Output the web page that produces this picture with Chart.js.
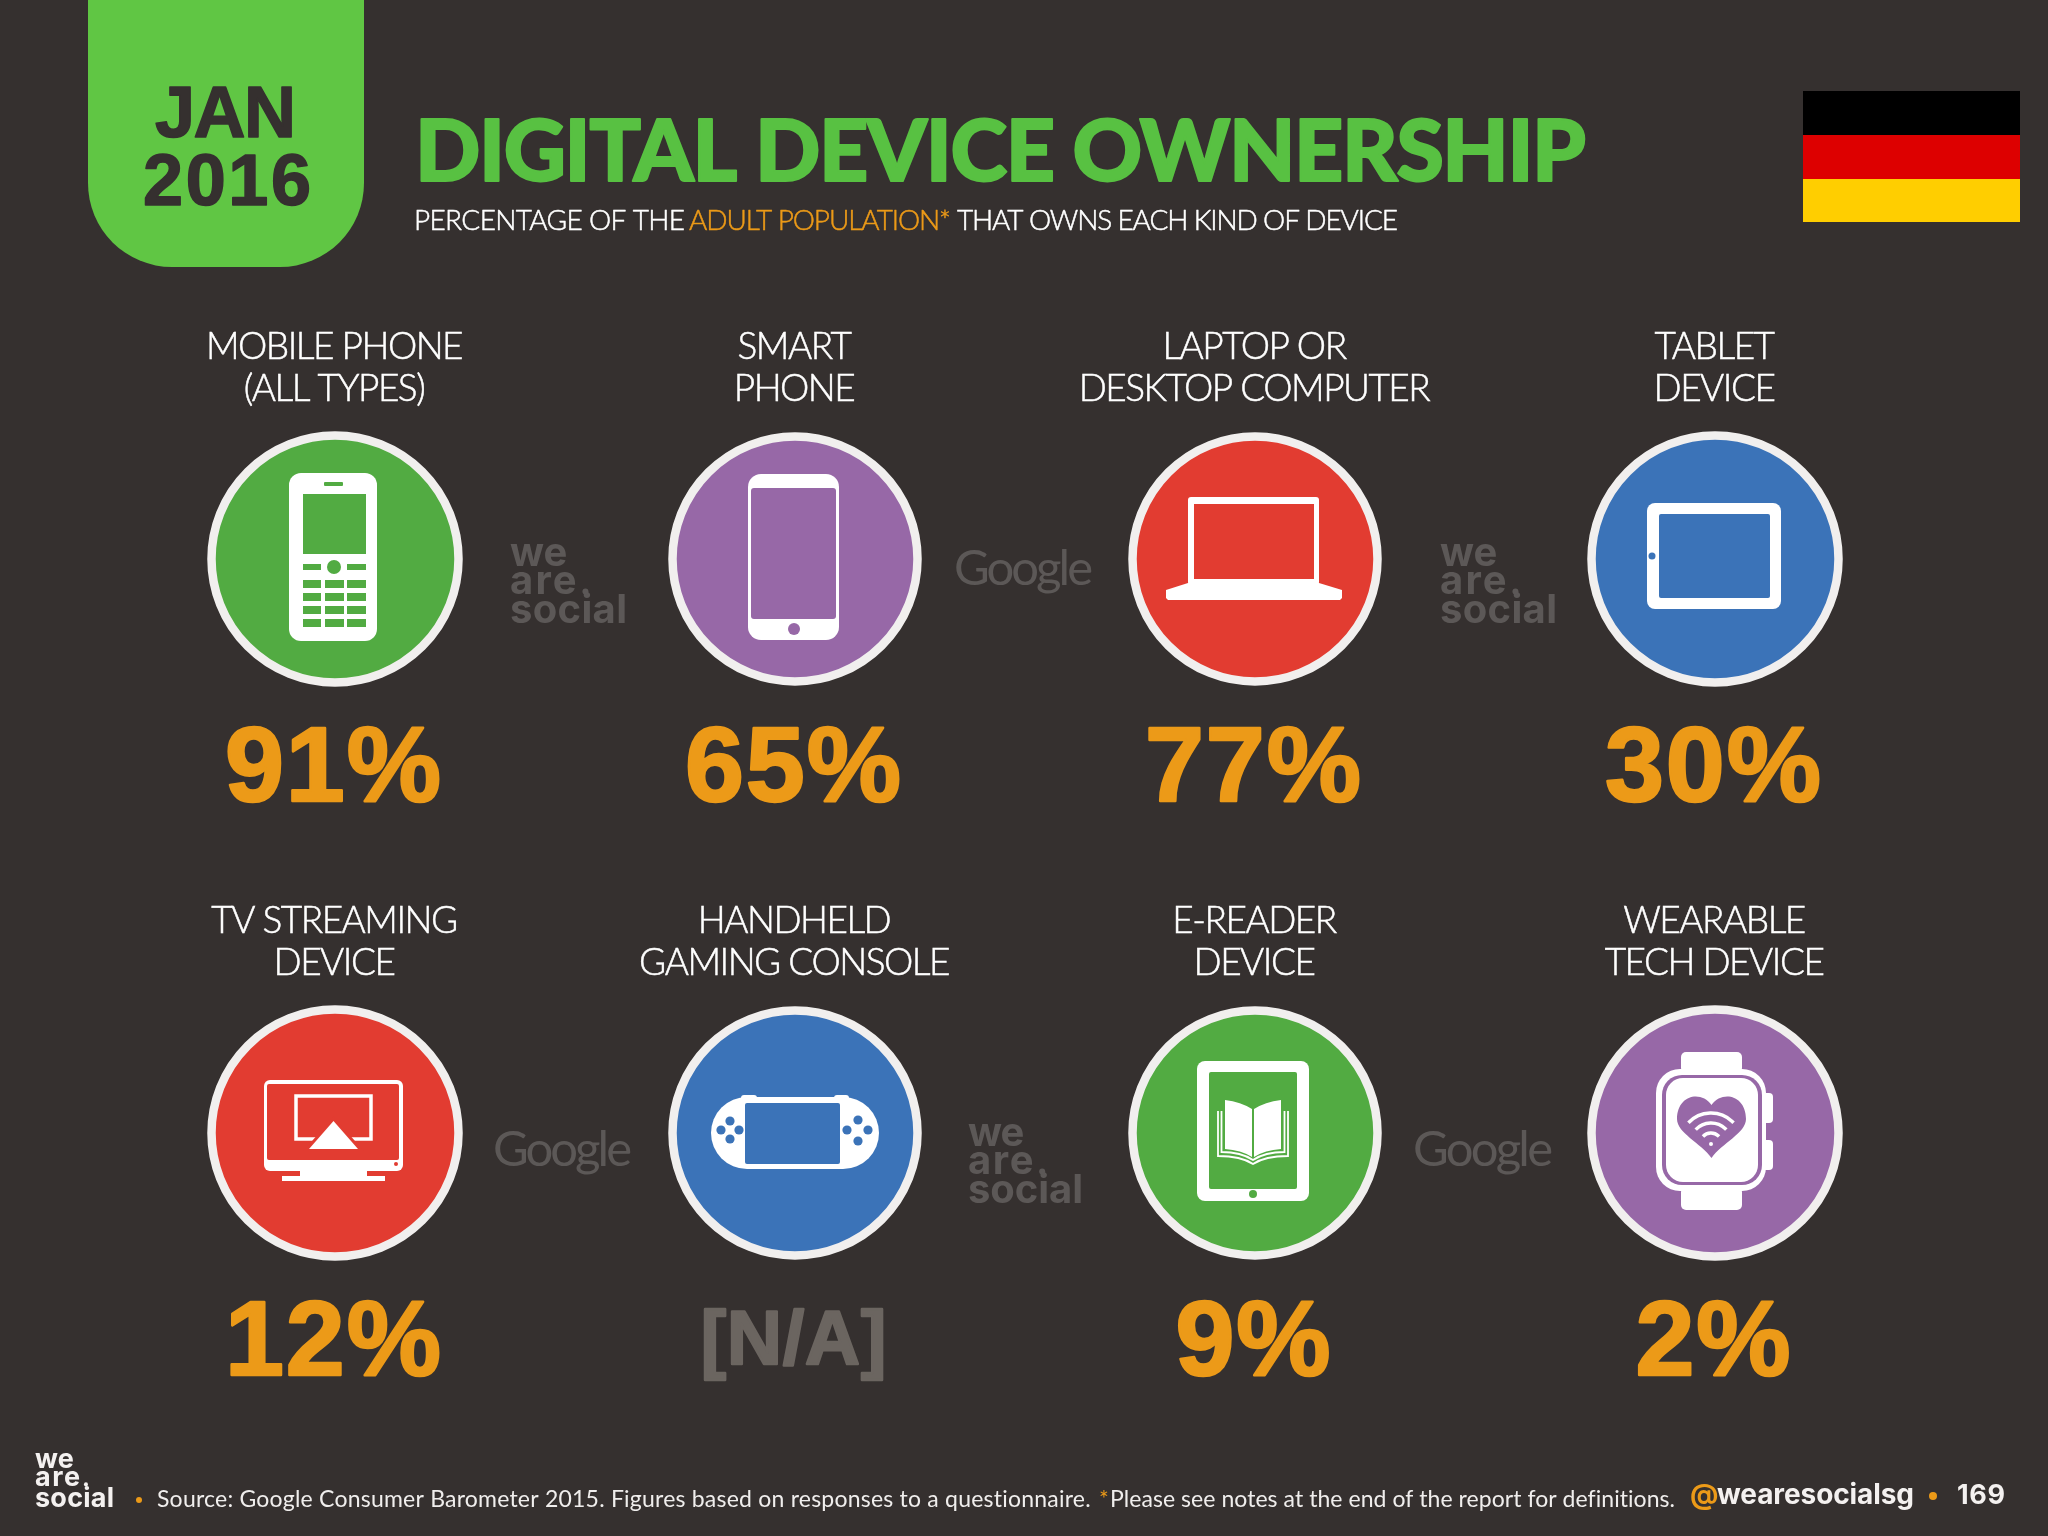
<!DOCTYPE html>
<html>
<head>
<meta charset="utf-8">
<title>Digital Device Ownership</title>
<script src="https://cdn.jsdelivr.net/npm/chart.js@4"></script>
<style>
  html, body { margin: 0; padding: 0; background: #35302f; }
  canvas { display: block; }
</style>
</head>
<body>
<canvas id="device-chart" width="2048" height="1536"></canvas>
<script>
// chart data
const categories = [
  ['MOBILE PHONE', '(ALL TYPES)'], ['SMART', 'PHONE'], ['LAPTOP OR', 'DESKTOP COMPUTER'], ['TABLET', 'DEVICE'],
  ['TV STREAMING', 'DEVICE'], ['HANDHELD', 'GAMING CONSOLE'], ['E-READER', 'DEVICE'], ['WEARABLE', 'TECH DEVICE'],
];
const ownership = [91, 65, 77, 30, 12, null, 9, 2];
const icons = ['phone', 'smart', 'laptop', 'tablet', 'tv', 'console', 'ereader', 'watch'];
const fills = ['#52ab42', '#9768a7', '#e23c31', '#3b73b8', '#e23c31', '#3b73b8', '#52ab42', '#9768a7'];

const COLUMNS = 4;
const ORANGE = '#ec9a18';
const GREY = '#5c5857';
const SANS = '"Liberation Sans", sans-serif';

// draws text, spaced so it takes exactly the given width
function fit(ctx, str, x, y, w, font, color, weight) {
  ctx.font = font;
  ctx.letterSpacing = '0px';
  ctx.textAlign = 'left';
  ctx.textBaseline = 'alphabetic';
  const natural = ctx.measureText(str).width;
  ctx.letterSpacing = ((w - natural) / (str.length - 1)).toFixed(3) + 'px';
  ctx.fillStyle = color;
  ctx.fillText(str, x, y);
  if (weight) {
    ctx.strokeStyle = color;
    ctx.lineWidth = weight;
    ctx.lineJoin = 'round';
    ctx.strokeText(str, x, y);
  }
  ctx.letterSpacing = '0px';
}

function box(ctx, x0, y0, x1, y1, r, color) {
  ctx.fillStyle = color;
  ctx.beginPath();
  ctx.roundRect(x0, y0, x1 - x0, y1 - y0, r);
  ctx.fill();
}

function dot(ctx, x, y, r, color) {
  ctx.fillStyle = color;
  ctx.beginPath();
  ctx.arc(x, y, r, 0, Math.PI * 2);
  ctx.fill();
}

function wearesocial(ctx, x, y, width, size, lines, color) {
  fit(ctx, 'we', x, y + lines[0], width * 0.49, '700 ' + size + 'px Inter', color);
  fit(ctx, 'are', x, y + lines[1], width * 0.57, '700 ' + size + 'px Inter', color);
  fit(ctx, 'social', x, y + lines[2], width, '700 ' + size + 'px Inter', color);
  dot(ctx, x + width * 0.645, y + lines[1] - size * 0.06, size * 0.075, color);
}

// device pictograms, drawn around the centre of each point
const drawIcon = {
  phone(ctx, bg) {
    ctx.translate(0, 1);
    box(ctx, -46, -87, 42, 81, 12, '#fff');
    box(ctx, -11, -78, 8, -74, 1, bg);
    box(ctx, -32, -66, 31, -6, 0, bg);
    box(ctx, -32, 4, -14, 10, 0, bg);
    box(ctx, 12, 4, 31, 10, 0, bg);
    dot(ctx, -1, 7, 7, bg);
    [[-32, -14], [-10, 9], [12, 31]].forEach(col => {
      [[20, 28], [33, 41], [46, 54], [59, 67]].forEach(row => box(ctx, col[0], row[0], col[1], row[1], 0, bg));
    });
  },
  smart(ctx, bg) {
    box(ctx, -47, -85, 44, 81, 13, '#fff');
    box(ctx, -44, -71, 41, 60, 3, bg);
    dot(ctx, -1, 70, 6, bg);
  },
  laptop(ctx, bg) {
    box(ctx, -67, -62, 64, 26, 3, '#fff');
    box(ctx, -61, -55, 59, 20, 0, bg);
    ctx.fillStyle = '#fff';
    ctx.beginPath();
    ctx.moveTo(-67, 24);
    ctx.lineTo(64, 24);
    ctx.lineTo(87, 31);
    ctx.lineTo(87, 39);
    ctx.lineTo(85, 41);
    ctx.lineTo(-87, 41);
    ctx.lineTo(-89, 39);
    ctx.lineTo(-89, 31);
    ctx.closePath();
    ctx.fill();
  },
  tablet(ctx, bg) {
    box(ctx, -68, -56, 66, 50, 8, '#fff');
    box(ctx, -56, -45, 55, 39, 2, bg);
    dot(ctx, -63, -3, 3.5, bg);
  },
  tv(ctx, bg) {
    box(ctx, -71, -53, 68, 38, 6, '#fff');
    box(ctx, -68, -49, 64, 27, 2, bg);
    box(ctx, -35, 38, 32, 44, 0, '#fff');
    box(ctx, -53, 43, 50, 48, 0, '#fff');
    dot(ctx, 61, 31, 2, bg);
    ctx.strokeStyle = '#fff';
    ctx.lineWidth = 3.5;
    ctx.strokeRect(-39, -37, 75, 43);
    ctx.beginPath();
    ctx.moveTo(-1.5, -12);
    ctx.lineTo(23, 16);
    ctx.lineTo(-26, 16);
    ctx.closePath();
    ctx.strokeStyle = bg;
    ctx.lineWidth = 6;
    ctx.stroke();
    ctx.fillStyle = '#fff';
    ctx.fill();
  },
  console(ctx, bg) {
    box(ctx, -54, -38, -38, -30, 3, '#fff');
    box(ctx, 39, -38, 54, -30, 3, '#fff');
    box(ctx, -84, -36, 84, 36, 36, '#fff');
    box(ctx, -50, -30, 45, 31, 2, bg);
    [[-65, -12], [-65, 6], [-74, -3], [-56, -3], [63, -13], [63, 8], [52, -3], [73, -3]].forEach(p => dot(ctx, p[0], p[1], 4.6, bg));
  },
  ereader(ctx, bg) {
    box(ctx, -58, -72, 54, 68, 8, '#fff');
    box(ctx, -46, -61, 42, 56, 2, bg);
    dot(ctx, -2, 61, 4, bg);
    // open book
    ctx.fillStyle = '#fff';
    ctx.beginPath();
    ctx.moveTo(-3, -24);
    ctx.quadraticCurveTo(-14, -31, -30, -33);
    ctx.lineTo(-30, 16);
    ctx.quadraticCurveTo(-14, 17, -3, 24);
    ctx.closePath();
    ctx.moveTo(-1, -24);
    ctx.quadraticCurveTo(10, -31, 26, -33);
    ctx.lineTo(26, 16);
    ctx.quadraticCurveTo(10, 17, -1, 24);
    ctx.closePath();
    ctx.fill();
    ctx.strokeStyle = '#fff';
    ctx.lineWidth = 1.8;
    [[-33.5, 29.5, 19], [-37, 33, 23]].forEach(p => {
      ctx.beginPath();
      ctx.moveTo(p[0], -22);
      ctx.lineTo(p[0], p[2]);
      ctx.quadraticCurveTo(-14, p[2], -2, p[2] + 8);
      ctx.quadraticCurveTo(10, p[2], p[1], p[2]);
      ctx.lineTo(p[1], -22);
      ctx.stroke();
    });
  },
  watch(ctx, bg) {
    box(ctx, -34, -81, 27, -60, 5, '#fff');
    box(ctx, -34, 54, 27, 77, 5, '#fff');
    box(ctx, 46, -40, 58, -10, 4, '#fff');
    box(ctx, 46, 7, 58, 37, 4, '#fff');
    box(ctx, -59, -64, 51, 58, 24, '#fff');
    box(ctx, -53, -58, 47, 52, 20, bg);
    box(ctx, -49, -55, 43, 49, 17, '#fff');
    // heart
    ctx.fillStyle = bg;
    ctx.beginPath();
    ctx.moveTo(-3.5, -28);
    ctx.bezierCurveTo(-14, -43, -38, -38, -38, -14);
    ctx.bezierCurveTo(-38, 0, -14, 10, -3.5, 25);
    ctx.bezierCurveTo(7, 10, 31, 0, 31, -14);
    ctx.bezierCurveTo(31, -38, 7, -43, -3.5, -28);
    ctx.fill();
    // wifi arcs
    ctx.strokeStyle = '#fff';
    ctx.lineWidth = 3.4;
    [11, 21, 31].forEach(r => {
      ctx.beginPath();
      ctx.arc(-4, 11, r, -Math.PI * 0.76, -Math.PI * 0.24);
      ctx.stroke();
    });
    dot(ctx, -4, 11, 2, '#fff');
  },
};

// everything around the grid of circles: badge, title, flag, footer, watermarks
const slideFrame = {
  id: 'slideFrame',
  beforeDraw(chart) {
    const ctx = chart.ctx;
    ctx.save();
    box(ctx, 88, -40, 364, 267, [0, 0, 84, 84], '#60c644');
    fit(ctx, 'JAN', 155, 137, 141, 'bold 72px ' + SANS, '#35302f', 1.5);
    fit(ctx, '2016', 143, 205, 168, 'bold 72px ' + SANS, '#35302f', 1.5);
    fit(ctx, 'DIGITAL DEVICE OWNERSHIP', 415, 181, 1171, '900 86px Lato', '#58c142', 2);
    fit(ctx, 'PERCENTAGE OF THE', 414, 230, 271, '300 28px Lato', '#fff', 0.5);
    fit(ctx, 'ADULT POPULATION*', 689, 230, 262, '300 28px Lato', ORANGE, 0.5);
    fit(ctx, 'THAT OWNS EACH KIND OF DEVICE', 957, 230, 441, '300 28px Lato', '#fff', 0.5);

    ctx.fillStyle = '#000';
    ctx.fillRect(1803, 91, 217, 44);
    ctx.fillStyle = '#dd0000';
    ctx.fillRect(1803, 135, 217, 44);
    ctx.fillStyle = '#ffce00';
    ctx.fillRect(1803, 179, 217, 43);

    wearesocial(ctx, 510, 538, 117, 40, [28, 56, 85], GREY);
    wearesocial(ctx, 1440, 538, 117, 40, [28, 56, 85], GREY);
    wearesocial(ctx, 968, 1118, 115, 40, [28, 56, 85], GREY);
    fit(ctx, 'Google', 954, 585, 139, '400 49px Lato', GREY);
    fit(ctx, 'Google', 493, 1166, 139, '400 49px Lato', GREY);
    fit(ctx, 'Google', 1413, 1166, 140, '400 49px Lato', GREY);

    wearesocial(ctx, 35, 1440, 79, 27, [28, 46, 67], '#f4f1f0');
    dot(ctx, 139, 1500, 3, ORANGE);
    fit(ctx, 'Source: Google Consumer Barometer 2015. Figures based on responses to a questionnaire.', 157, 1507, 934, '400 23px Lato', '#f0eeed');
    fit(ctx, '*', 1099, 1507, 8, '400 23px Lato', ORANGE);
    fit(ctx, 'Please see notes at the end of the report for definitions.', 1110, 1507, 565, '400 23px Lato', '#f0eeed');
    fit(ctx, '@', 1690, 1504, 26, '700 28px Inter', ORANGE);
    fit(ctx, 'wearesocialsg', 1717, 1504, 197, '700 28px Inter', '#f4f1f0');
    dot(ctx, 1933, 1496, 4, ORANGE);
    fit(ctx, '169', 1957, 1504, 48, '700 27px Inter', '#f4f1f0');
    ctx.restore();
  },
};

// names above each circle, pictogram inside, figure below
const deviceLabels = {
  id: 'deviceLabels',
  afterDatasetsDraw(chart) {
    const ctx = chart.ctx;
    chart.getDatasetMeta(0).data.forEach((pt, i) => {
      ctx.save();
      ctx.textAlign = 'center';
      ctx.textBaseline = 'alphabetic';
      ctx.font = '300 37px Lato';
      ctx.letterSpacing = '-1.5px';
      ctx.fillStyle = ctx.strokeStyle = '#fff';
      ctx.lineWidth = 0.5;
      categories[i].forEach((line, n) => {
        ctx.fillText(line, pt.x - 1, pt.y - 200 + n * 42);
        ctx.strokeText(line, pt.x - 1, pt.y - 200 + n * 42);
      });

      const value = ownership[i];
      const missing = value === null;
      ctx.font = 'bold ' + (missing ? 76 : 106) + 'px ' + SANS;
      ctx.letterSpacing = missing ? '1px' : '2px';
      ctx.fillStyle = ctx.strokeStyle = missing ? '#6b6560' : ORANGE;
      ctx.lineWidth = 2.5;
      ctx.lineJoin = 'round';
      const text = missing ? '[N/A]' : value + '%';
      const y = pt.y + (missing ? 231 : 242);
      ctx.fillText(text, pt.x - 1, y);
      ctx.strokeText(text, pt.x - 1, y);
      ctx.restore();

      ctx.save();
      ctx.translate(pt.x, pt.y);
      drawIcon[icons[i]](ctx, fills[i]);
      ctx.restore();
    });
  },
};

new Chart(document.getElementById('device-chart').getContext('2d'), {
  type: 'scatter',
  data: {
    datasets: [{
      label: 'Share of adults owning the device',
      data: ownership.map((v, i) => ({ x: i % COLUMNS, y: Math.floor(i / COLUMNS) })),
      pointRadius: (c) => (c.dataIndex % COLUMNS === 0 || c.dataIndex % COLUMNS === 3 ? 123.5 : 122.5),
      pointBorderWidth: 8.5,
      pointBorderColor: '#f1efee',
      pointBackgroundColor: fills,
      clip: false,
    }],
  },
  options: {
    responsive: false,
    animation: false,
    devicePixelRatio: 1,
    layout: { padding: { left: 335, right: 333, top: 559, bottom: 403 } },
    scales: {
      x: { display: false, min: 0, max: COLUMNS - 1 },
      y: { display: false, min: 0, max: 1, reverse: true },
    },
    plugins: { legend: { display: false }, tooltip: { enabled: false } },
  },
  plugins: [slideFrame, deviceLabels],
});
</script>
</body>
</html>
